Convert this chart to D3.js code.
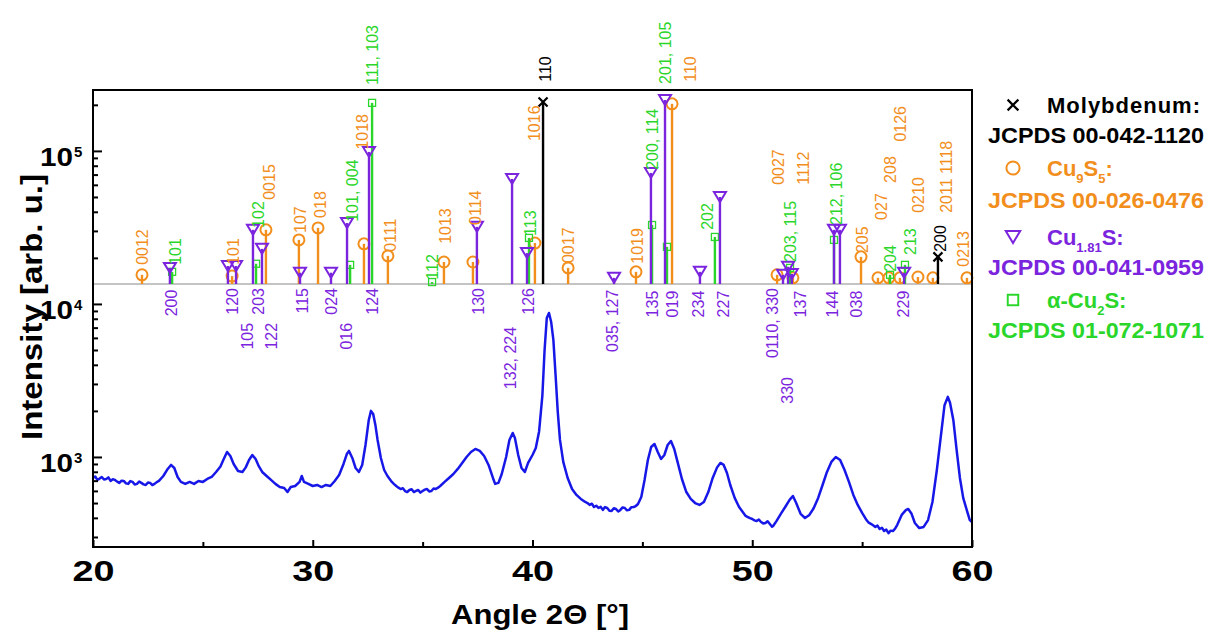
<!DOCTYPE html>
<html><head><meta charset="utf-8">
<script src="https://cdn.jsdelivr.net/npm/d3@7"></script>
<style>
body{margin:0;background:#fff}
text{font-family:"Liberation Sans",Arial,Helvetica,sans-serif}
</style>
</head><body>
<svg id="chart" width="1209" height="630"></svg>
<script>
// ---------------- data ----------------
const xDomain = [20, 60];
const yDomain = [258, 250000];
const xMajorTicks = [20, 30, 40, 50, 60];
const xMinorTicks = [25, 35, 45, 55];
const yMajorTicks = [1e3, 1e4, 1e5];
const yMajorExp = ["3", "4", "5"];
const stickBase = 1.35e4;

// measured XRD scan (2θ in degrees, intensity in arb. u.)
const scanAngle = [20.0,20.1,20.2,20.3,20.4,20.5,20.6,20.7,20.8,20.9,21.0,21.1,21.2,21.3,21.4,21.5,21.6,21.7,21.8,21.9,22.0,22.1,22.2,22.3,22.4,22.5,22.6,22.7,22.8,22.9,23.0,23.2,23.4,23.55,23.7,23.85,24.0,24.2,24.4,24.6,24.8,25.0,25.2,25.4,25.6,25.8,25.95,26.1,26.25,26.4,26.6,26.8,26.95,27.1,27.25,27.4,27.55,27.7,27.9,28.1,28.3,28.5,28.7,28.85,29.0,29.2,29.4,29.5,29.6,29.8,30.0,30.2,30.4,30.6,30.8,31.0,31.2,31.4,31.55,31.65,31.8,31.95,32.1,32.25,32.4,32.55,32.65,32.75,32.85,32.95,33.1,33.25,33.4,33.6,33.7,33.8,33.9,34.0,34.1,34.2,34.3,34.4,34.5,34.6,34.7,34.8,34.9,35.0,35.1,35.2,35.3,35.4,35.5,35.6,35.7,35.8,36.0,36.2,36.4,36.6,36.8,37.0,37.2,37.4,37.6,37.8,38.0,38.2,38.3,38.45,38.6,38.8,38.95,39.1,39.2,39.35,39.5,39.65,39.8,40.0,40.15,40.3,40.45,40.55,40.65,40.75,40.85,40.95,41.05,41.15,41.25,41.4,41.6,41.8,42.0,42.1,42.2,42.3,42.4,42.5,42.6,42.7,42.8,42.9,43.0,43.1,43.2,43.3,43.4,43.5,43.6,43.7,43.8,43.9,44.0,44.1,44.2,44.3,44.4,44.5,44.6,44.7,44.8,44.95,45.1,45.25,45.4,45.55,45.7,45.85,46.0,46.15,46.3,46.45,46.6,46.8,47.0,47.2,47.4,47.6,47.8,48.0,48.2,48.4,48.55,48.7,48.85,49.0,49.2,49.4,49.6,49.7,49.8,49.9,50.0,50.1,50.2,50.3,50.4,50.5,50.6,50.7,50.8,50.9,50.95,51.1,51.3,51.5,51.7,51.85,52.0,52.2,52.4,52.6,52.8,53.0,53.2,53.4,53.6,53.8,54.0,54.2,54.4,54.6,54.8,55.0,55.2,55.3,55.4,55.5,55.6,55.7,55.8,55.9,56.0,56.1,56.2,56.3,56.4,56.5,56.6,56.8,57.0,57.1,57.25,57.4,57.6,57.8,58.0,58.2,58.4,58.6,58.75,58.9,59.0,59.15,59.3,59.45,59.6,59.8,59.9,60.0];
const scanIntensity = [729,745,708,722,740,712,718,735,697,715,708,690,677,700,697,672,667,695,687,660,667,690,677,662,656,680,677,655,667,685,697,751,835,887,847,740,687,667,687,667,697,687,718,740,798,867,970,1078,1015,900,810,798,855,956,1030,970,867,798,751,708,667,636,627,590,636,646,687,751,687,667,646,656,636,656,646,697,762,900,1045,1095,985,847,798,887,1197,1745,2000,1910,1620,1292,985,822,751,687,665,646,630,617,625,599,590,608,615,590,600,608,585,599,612,617,595,599,622,617,630,646,687,729,774,835,914,1000,1078,1128,1095,1015,887,729,667,677,774,1000,1292,1435,1330,1030,847,798,914,1030,1145,1468,2530,5000,8080,8730,7610,5820,3430,1970,1292,928,729,617,565,548,532,520,508,500,486,495,471,480,464,472,451,470,464,445,444,462,457,440,451,468,464,448,451,470,471,478,493,548,708,956,1162,1216,1078,970,1030,1197,1272,1128,928,718,590,532,500,486,508,590,729,855,914,887,786,656,540,471,431,412,405,398,393,385,381,390,376,368,370,380,365,350,354,381,425,471,524,556,500,425,399,418,464,540,656,798,928,1000,956,822,687,565,486,431,387,372,365,358,349,356,338,345,328,335,318,330,328,340,360,418,451,457,425,370,343,349,387,508,822,1435,2180,2470,2260,1745,1111,729,540,431,387,376];

// reference patterns: [2θ, intensity]
const moSticks = [[40.48,2.09e5],[58.45,2.03e4]];
const cu9s5Sticks = [[22.23,1.55e4],[26.33,1.52e4],[27.87,3.05e4],[29.37,2.62e4],[30.24,3.14e4],[32.33,2.47e4],[33.42,2.06e4],[35.97,1.88e4],[37.29,1.88e4],[40.11,2.50e4],[41.62,1.72e4],[44.71,1.62e4],[46.35,2.03e5],[51.13,1.55e4],[51.85,1.48e4],[54.95,2.03e4],[55.72,1.48e4],[56.22,1.48e4],[56.72,1.48e4],[57.54,1.50e4],[58.22,1.48e4],[59.77,1.48e4]];
const cu181sSticks = [[23.50,1.72e4],[26.14,1.77e4],[26.51,1.77e4],[27.28,3.05e4],[27.69,2.29e4],[29.42,1.60e4],[30.83,1.60e4],[31.56,3.38e4],[32.56,9.85e4],[37.47,3.19e4],[39.07,6.56e4],[39.75,2.15e4],[43.71,1.48e4],[45.39,7.18e4],[46.03,2.15e5],[47.62,1.62e4],[48.53,5.0e4],[51.40,1.55e4],[51.63,1.75e4],[51.80,1.57e4],[53.72,3.05e4],[53.99,3.05e4],[56.91,1.60e4]];
const cu2sSticks = [[23.60,1.62e4],[27.42,1.83e4],[31.70,1.80e4],[32.70,2.06e5],[35.43,1.39e4],[39.84,2.70e4],[45.44,3.28e4],[46.12,2.36e4],[48.30,2.74e4],[51.72,1.72e4],[53.72,2.62e4],[56.27,1.55e4],[56.95,1.80e4]];

// hkl labels: [text, 2θ, intensity at the label's anchor]
const moLabels = [["110",40.57,2.83e5],["200",58.54,2.19e4]];
const cu9s5Labels = [["0012",22.23,1.80e4],["101",26.37,1.80e4],["0015",28.01,4.79e4],["107",29.42,2.91e4],["018",30.33,3.65e4],["1018",32.24,1.02e5],["0111",33.52,2.19e4],["1013",36.02,2.47e4],["0114",37.38,3.28e4],["1016",40.07,1.16e5],["0017",41.62,1.85e4],["1019",44.76,1.83e4],["110",47.17,2.83e5],["0027",51.17,6.0e4],["1112",52.31,6.0e4],["205",54.99,2.15e4],["027",55.86,3.54e4],["208",56.27,6.18e4],["0126",56.72,1.15e5],["0210",57.54,3.94e4],["2011 1118",58.82,3.94e4],["0213",59.59,1.75e4]];
const cu2sLabels = [["101",23.73,1.80e4],["102",27.51,3.14e4],["101, 004",31.79,3.44e4],["111, 103",32.70,2.70e5],["112",35.43,1.44e4],["113",39.89,2.78e4],["200, 114",45.44,7.52e4],["201, 105",46.03,2.74e5],["202",47.94,3.05e4],["203, 115",51.72,1.88e4],["212, 106",53.81,3.28e4],["204",56.27,1.62e4],["213",57.18,2.09e4]];
const cu181sLabels = [["200",23.55,1.24e4],["120",26.33,1.27e4],["105",27.01,7.52e3],["203",27.51,1.27e4],["122",28.10,7.52e3],["115",29.51,1.27e4],["024",30.83,1.27e4],["016",31.51,7.52e3],["124",32.70,1.27e4],["130",37.52,1.27e4],["132, 224",38.98,7.08e3],["126",39.80,1.27e4],["035, 127",43.62,1.24e4],["135",45.44,1.22e4],["019",46.35,1.22e4],["234",47.53,1.22e4],["227",48.67,1.22e4],["0110, 330",50.90,1.27e4],["330",51.58,3.33e3],["137",52.17,1.22e4],["144",53.63,1.22e4],["038",54.72,1.22e4],["229",56.86,1.22e4]];

const legendNames = [
  null,
  [["Cu",""],["9","sub"],["S",""],["5","sub"],[":",""]],
  [["Cu",""],["1.81","sub"],["S:",""]],
  [["α-Cu",""],["2","sub"],["S:",""]]
];
const legendTitles = ["Molybdenum:", null, null, null];
const legendCodes = ["JCPDS 00-042-1120","JCPDS 00-026-0476","JCPDS 00-041-0959","JCPDS 01-072-1071"];

// ---------------- drawing ----------------
const BLACK="#000", ORANGE="#F28E1C", PURPLE="#7B24DE", GREEN="#2BD62B", BLUE="#1717E8";
const svg = d3.select("#chart");
const x = d3.scaleLinear().domain(xDomain).range([93, 972]);
const y = d3.scaleLog().domain(yDomain).range([547, 90]);

// baseline of reference sticks
svg.append("line")
  .attr("x1", x(xDomain[0])).attr("x2", x(xDomain[1]))
  .attr("y1", y(stickBase)).attr("y2", y(stickBase))
  .attr("stroke", "#c4c4c4").attr("stroke-width", 2);

// scan
const line = d3.line().x(i => x(scanAngle[i])).y(i => y(scanIntensity[i]));
svg.append("path").datum(d3.range(scanAngle.length))
  .attr("d", line).attr("fill", "none").attr("stroke", BLUE)
  .attr("stroke-width", 2.5).attr("stroke-linejoin", "round");

// marker helpers
function drawMarker(g, type, color, s) {
  if (type === "circle") {
    g.append("circle").attr("r", 5.5*s).attr("fill", "none").attr("stroke", color).attr("stroke-width", 2);
  } else if (type === "tri") {
    g.append("path").attr("d", `M${-6*s},${-5*s}L${6*s},${-5*s}L0,${5*s}Z`)
      .attr("fill", "none").attr("stroke", color).attr("stroke-width", 2).attr("stroke-linejoin","miter");
  } else if (type === "square") {
    g.append("rect").attr("x", -3.5*s).attr("y", -3.5*s).attr("width", 7*s).attr("height", 7*s)
      .attr("fill", "none").attr("stroke", color).attr("stroke-width", 1.3*s);
  } else if (type === "x") {
    const r = 4.5*s;
    g.append("path").attr("d", `M${-r},${-r}L${r},${r}M${-r},${r}L${r},${-r}`)
      .attr("stroke", color).attr("stroke-width", 2.2);
  }
}

const phases = [
  {sticks: cu9s5Sticks, color: ORANGE, marker: "circle"},
  {sticks: cu2sSticks, color: GREEN, marker: "square"},
  {sticks: cu181sSticks, color: PURPLE, marker: "tri"},
  {sticks: moSticks, color: BLACK, marker: "x"}
];
phases.forEach(p => {
  const g = svg.append("g");
  g.selectAll("line").data(p.sticks).join("line")
    .attr("x1", d => x(d[0])).attr("x2", d => x(d[0]))
    .attr("y1", y(stickBase)).attr("y2", d => y(d[1]))
    .attr("stroke", p.color).attr("stroke-width", 2.4);
  p.sticks.forEach(d => {
    const m = g.append("g").attr("transform", `translate(${x(d[0])},${y(d[1])})`);
    drawMarker(m, p.marker, p.color, 1);
  });
});

// labels
function drawLabels(list, color, anchor) {
  svg.append("g").selectAll("text").data(list).join("text")
    .attr("transform", d => `translate(${x(d[1])},${y(d[2])}) rotate(-90)`)
    .attr("dy", "0.36em")
    .attr("text-anchor", anchor)
    .attr("font-size", 16)
    .attr("fill", color)
    .text(d => d[0]);
}
drawLabels(cu9s5Labels, ORANGE, "start");
drawLabels(cu2sLabels, GREEN, "start");
drawLabels(moLabels, BLACK, "start");
drawLabels(cu181sLabels, PURPLE, "end");

// frame
svg.append("rect").attr("x", 93).attr("y", 90).attr("width", 972-93).attr("height", 547-90)
  .attr("fill", "none").attr("stroke", "#000").attr("stroke-width", 2);

// x axis
const gx = svg.append("g").attr("transform", "translate(0,547)")
  .call(d3.axisBottom(x).tickValues(xMajorTicks).tickSize(-7).tickPadding(13).tickFormat(d3.format("d")));
gx.call(g => g.select(".domain").remove());
gx.selectAll("line").attr("stroke-width", 2);
gx.selectAll("text").attr("font-size", 30).attr("font-weight", "bold").attr("fill", "#000")
  .attr("textLength", 42).attr("lengthAdjust", "spacingAndGlyphs")
  .attr("x", -21).attr("text-anchor", "start");
const gxm = svg.append("g").attr("transform", "translate(0,547)")
  .call(d3.axisBottom(x).tickValues(xMinorTicks).tickSize(-5).tickFormat(""));
gxm.call(g => g.select(".domain").remove());
gxm.selectAll("line").attr("stroke-width", 2);

// y axis
const minorY = y.ticks().filter(v => !yMajorTicks.includes(v));
const gym = svg.append("g").attr("transform", "translate(93,0)")
  .call(d3.axisLeft(y).tickValues(minorY).tickSize(-5).tickFormat(""));
gym.call(g => g.select(".domain").remove());
gym.selectAll("line").attr("stroke-width", 2);
const gy = svg.append("g").attr("transform", "translate(93,0)")
  .call(d3.axisLeft(y).tickValues(yMajorTicks).tickSize(-9).tickFormat(""));
gy.call(g => g.select(".domain").remove());
gy.selectAll("line").attr("stroke-width", 2);
gy.selectAll(".tick").each(function(d, i) {
  const t = d3.select(this);
  t.append("text").attr("x", -20).attr("y", 15).attr("text-anchor", "end")
    .attr("font-size", 26).attr("font-weight", "bold").attr("fill", "#000")
    .attr("textLength", 33).attr("lengthAdjust", "spacingAndGlyphs").text("10");
  t.append("text").attr("x", -19).attr("y", 6).attr("text-anchor", "start")
    .attr("font-size", 15).attr("font-weight", "bold").attr("fill", "#000").text(yMajorExp[i]);
});

// axis titles
svg.append("text").attr("x", 540).attr("y", 624).attr("text-anchor", "middle")
  .attr("font-size", 27).attr("font-weight", "bold")
  .attr("textLength", 178).attr("lengthAdjust", "spacingAndGlyphs").text("Angle 2Θ [°]");
svg.append("text").attr("transform", "translate(42,307) rotate(-90)").attr("text-anchor", "middle")
  .attr("font-size", 29).attr("font-weight", "bold")
  .attr("textLength", 266).attr("lengthAdjust", "spacingAndGlyphs").text("Intensity [arb. u.]");

// legend
const legendColors = [BLACK, ORANGE, PURPLE, GREEN];
const legendMarkers = ["x", "circle", "tri", "square"];
const legendRowY = [105, 168, 237, 300];
const legendCodeY = [135, 200, 267, 330];
const lg = svg.append("g");
legendCodes.forEach((code, i) => {
  const c = legendColors[i];
  const m = lg.append("g").attr("transform", `translate(1013,${legendRowY[i]})`);
  drawMarker(m, legendMarkers[i], c, i === 3 ? 1.5 : 1.2);
  const t = lg.append("text").attr("x", 1047).attr("y", legendRowY[i] + 8)
    .attr("font-size", 22).attr("font-weight", "bold").attr("fill", c);
  if (legendTitles[i]) {
    t.attr("letter-spacing", 1).text(legendTitles[i]);
  } else {
    legendNames[i].forEach((seg, k) => {
      const prev = k > 0 ? legendNames[i][k-1] : null;
      let dy = 0;
      if (seg[1] === "sub") dy = 7;
      else if (prev && prev[1] === "sub") dy = -7;
      const ts = t.append("tspan").attr("dy", dy).text(seg[0]);
      if (seg[1] === "sub") ts.attr("font-size", 13);
    });
  }
  lg.append("text").attr("x", 988).attr("y", legendCodeY[i] + 8)
    .attr("font-size", 22).attr("font-weight", "bold").attr("fill", c)
    .attr("textLength", 216).attr("lengthAdjust", "spacingAndGlyphs").text(code);
});
</script>
</body></html>
